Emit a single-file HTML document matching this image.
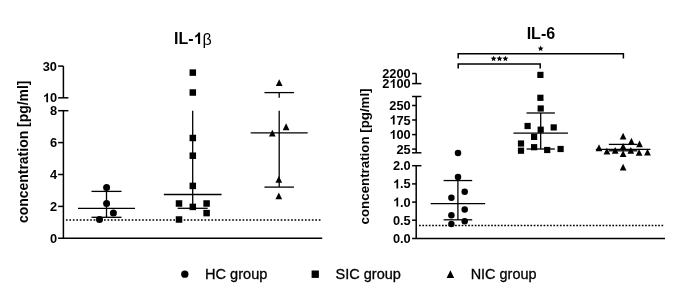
<!DOCTYPE html>
<html><head><meta charset="utf-8"><style>
html,body{margin:0;padding:0;background:#fff;width:687px;height:290px;overflow:hidden;}
svg{display:block;filter:grayscale(1);font-family:"Liberation Sans",sans-serif;}
</style></head><body>
<svg width="687" height="290" viewBox="0 0 687 290">
<g stroke="#000" stroke-width="1.5" fill="none" stroke-linecap="butt">
<line x1="63.4" y1="66.1" x2="63.4" y2="97.8"/>
<line x1="58.1" y1="66.1" x2="63.4" y2="66.1"/>
<line x1="58.1" y1="97.8" x2="68.4" y2="97.8"/>
<line x1="63.4" y1="110.7" x2="63.4" y2="238.3"/>
<line x1="58.1" y1="110.7" x2="68.4" y2="110.7"/>
<line x1="58.1" y1="142.6" x2="63.4" y2="142.6"/>
<line x1="58.1" y1="174.5" x2="63.4" y2="174.5"/>
<line x1="58.1" y1="206.4" x2="63.4" y2="206.4"/>
<line x1="58.1" y1="238.3" x2="322.2" y2="238.3"/>
<line x1="78.0" y1="208.4" x2="135.0" y2="208.4" stroke-width="1.3"/>
<line x1="91.5" y1="191.4" x2="121.5" y2="191.4" stroke-width="1.3"/>
<line x1="91.5" y1="217.3" x2="121.5" y2="217.3" stroke-width="1.3"/>
<line x1="106.5" y1="191.4" x2="106.5" y2="217.3" stroke-width="1.3"/>
<line x1="163.85" y1="194.5" x2="221.54999999999998" y2="194.5" stroke-width="1.3"/>
<line x1="177.7" y1="208.3" x2="207.7" y2="208.3" stroke-width="1.3"/>
<line x1="192.7" y1="110.7" x2="192.7" y2="208.3" stroke-width="1.3"/>
<line x1="250.7" y1="132.9" x2="307.7" y2="132.9" stroke-width="1.3"/>
<line x1="264.45" y1="92.6" x2="293.95" y2="92.6" stroke-width="1.3"/>
<line x1="264.45" y1="187.1" x2="293.95" y2="187.1" stroke-width="1.3"/>
<line x1="279.2" y1="92.6" x2="279.2" y2="97.8" stroke-width="1.3"/>
<line x1="279.2" y1="110.7" x2="279.2" y2="187.1" stroke-width="1.3"/>
<line x1="416.2" y1="73.5" x2="416.2" y2="83.6"/>
<line x1="412.1" y1="73.5" x2="416.2" y2="73.5"/>
<line x1="412.1" y1="83.6" x2="421.4" y2="83.6"/>
<line x1="416.2" y1="96.5" x2="416.2" y2="152.8"/>
<line x1="412.1" y1="96.5" x2="421.4" y2="96.5"/>
<line x1="412.1" y1="152.8" x2="421.4" y2="152.8"/>
<line x1="412.1" y1="105.5" x2="416.2" y2="105.5"/>
<line x1="412.1" y1="120" x2="416.2" y2="120"/>
<line x1="412.1" y1="134.6" x2="416.2" y2="134.6"/>
<line x1="412.1" y1="149.1" x2="416.2" y2="149.1"/>
<line x1="416.2" y1="165.7" x2="416.2" y2="238.5"/>
<line x1="412.1" y1="165.7" x2="421.4" y2="165.7"/>
<line x1="412.1" y1="183.9" x2="416.2" y2="183.9"/>
<line x1="412.1" y1="202.1" x2="416.2" y2="202.1"/>
<line x1="412.1" y1="220.2" x2="416.2" y2="220.2"/>
<line x1="412.1" y1="238.6" x2="665" y2="238.6"/>
<line x1="430.65" y1="203.7" x2="485.15" y2="203.7" stroke-width="1.3"/>
<line x1="443.59999999999997" y1="180.55" x2="472.2" y2="180.55" stroke-width="1.3"/>
<line x1="443.59999999999997" y1="219.8" x2="472.2" y2="219.8" stroke-width="1.3"/>
<line x1="457.9" y1="180.55" x2="457.9" y2="219.8" stroke-width="1.3"/>
<line x1="513.45" y1="133.2" x2="567.95" y2="133.2" stroke-width="1.3"/>
<line x1="526.5500000000001" y1="113.0" x2="554.85" y2="113.0" stroke-width="1.3"/>
<line x1="526.5500000000001" y1="149.0" x2="554.85" y2="149.0" stroke-width="1.3"/>
<line x1="540.7" y1="113.0" x2="540.7" y2="149.0" stroke-width="1.3"/>
<line x1="595.8000000000001" y1="149.4" x2="650.4" y2="149.4" stroke-width="1.3"/>
<line x1="608.85" y1="144.4" x2="637.35" y2="144.4" stroke-width="1.3"/>
<line x1="608.85" y1="150.8" x2="637.35" y2="150.8" stroke-width="1.3"/>
<line x1="623.1" y1="144.4" x2="623.1" y2="150.8" stroke-width="1.3"/>
<line x1="65.91" y1="220" x2="321" y2="220" stroke-dasharray="1.7 1.764" stroke-width="1.6"/>
<line x1="419.05" y1="225.5" x2="663.2" y2="225.5" stroke-dasharray="1.7 1.576" stroke-width="1.6"/>
<polyline points="458.2,58.5 458.2,53.8 623.4,53.8 623.4,58.5" fill="none"/>
<polyline points="458.2,68.6 458.2,64.1 540.2,64.1 540.2,68.6" fill="none"/>
</g>
<g fill="#000">
<circle cx="106.6" cy="187.5" r="3.5"/>
<circle cx="106.6" cy="203.5" r="3.5"/>
<circle cx="113.4" cy="212.9" r="3.5"/>
<circle cx="99.5" cy="219.6" r="3.5"/>
<rect x="189.55" y="69.35" width="6.5" height="6.5"/>
<rect x="189.55" y="89.25" width="6.5" height="6.5"/>
<rect x="189.55" y="134.75" width="6.5" height="6.5"/>
<rect x="189.55" y="152.45" width="6.5" height="6.5"/>
<rect x="189.55" y="182.65" width="6.5" height="6.5"/>
<rect x="175.75" y="200.25" width="6.5" height="6.5"/>
<rect x="203.35" y="200.25" width="6.5" height="6.5"/>
<rect x="189.55" y="203.65" width="6.5" height="6.5"/>
<rect x="203.35" y="209.85" width="6.5" height="6.5"/>
<rect x="175.75" y="216.25" width="6.5" height="6.5"/>
<polygon points="275.85,86.06 282.55,86.06 279.20,79.26"/>
<polygon points="282.75,130.16 289.45,130.16 286.10,123.36"/>
<polygon points="268.95,136.46 275.65,136.46 272.30,129.66"/>
<polygon points="275.45,182.86 282.15,182.86 278.80,176.06"/>
<polygon points="275.45,199.26 282.15,199.26 278.80,192.46"/>
<circle cx="458" cy="153" r="3.25"/>
<circle cx="458" cy="177" r="3.25"/>
<circle cx="464.7" cy="191.8" r="3.25"/>
<circle cx="451.4" cy="197.8" r="3.25"/>
<circle cx="464.7" cy="209.6" r="3.25"/>
<circle cx="451.4" cy="215.2" r="3.25"/>
<circle cx="464.7" cy="221.2" r="3.25"/>
<circle cx="451.4" cy="224.0" r="3.25"/>
<rect x="537.30" y="71.80" width="6.2" height="6.2"/>
<rect x="537.30" y="94.70" width="6.2" height="6.2"/>
<rect x="537.60" y="105.40" width="6.2" height="6.2"/>
<rect x="524.50" y="122.90" width="6.2" height="6.2"/>
<rect x="550.60" y="124.30" width="6.2" height="6.2"/>
<rect x="537.60" y="126.60" width="6.2" height="6.2"/>
<rect x="531.00" y="133.80" width="6.2" height="6.2"/>
<rect x="517.90" y="140.40" width="6.2" height="6.2"/>
<rect x="517.90" y="147.60" width="6.2" height="6.2"/>
<rect x="531.00" y="144.10" width="6.2" height="6.2"/>
<rect x="544.10" y="146.90" width="6.2" height="6.2"/>
<rect x="557.50" y="145.90" width="6.2" height="6.2"/>
<polygon points="619.75,139.56 626.45,139.56 623.10,132.76"/>
<polygon points="628.05,144.66 634.75,144.66 631.40,137.86"/>
<polygon points="636.15,147.26 642.85,147.26 639.50,140.46"/>
<polygon points="595.65,151.16 602.35,151.16 599.00,144.36"/>
<polygon points="619.75,149.76 626.45,149.76 623.10,142.96"/>
<polygon points="603.55,154.46 610.25,154.46 606.90,147.66"/>
<polygon points="611.85,153.76 618.55,153.76 615.20,146.96"/>
<polygon points="627.45,153.76 634.15,153.76 630.80,146.96"/>
<polygon points="619.75,156.96 626.45,156.96 623.10,150.16"/>
<polygon points="635.75,155.76 642.45,155.76 639.10,148.96"/>
<polygon points="644.15,155.46 650.85,155.46 647.50,148.66"/>
<polygon points="619.75,170.46 626.45,170.46 623.10,163.66"/>
<circle cx="184.8" cy="274.2" r="3.65"/>
<rect x="311.6" y="270.5" width="7.3" height="7.4"/>
<polygon points="446.6,278 454.2,278 450.4,270.3"/>
<polygon points="540.65,45.55 541.47,47.47 543.55,47.66 541.98,49.03 542.44,51.07 540.65,50.00 538.86,51.07 539.32,49.03 537.75,47.66 539.83,47.47"/>
<polygon points="493.60,55.65 494.42,57.57 496.50,57.76 494.93,59.13 495.39,61.17 493.60,60.10 491.81,61.17 492.27,59.13 490.70,57.76 492.78,57.57"/>
<polygon points="499.50,55.65 500.32,57.57 502.40,57.76 500.83,59.13 501.29,61.17 499.50,60.10 497.71,61.17 498.17,59.13 496.60,57.76 498.68,57.57"/>
<polygon points="505.40,55.65 506.22,57.57 508.30,57.76 506.73,59.13 507.19,61.17 505.40,60.10 503.61,61.17 504.07,59.13 502.50,57.76 504.58,57.57"/>
<path transform="translate(42.76,102.3) scale(12.8)" d="M0.412,0 L0.278,0 L0.278,-0.506 C0.226,-0.457 0.165,-0.421 0.104,-0.404 L0.104,-0.526 C0.14,-0.538 0.18,-0.558 0.219,-0.591 C0.259,-0.624 0.288,-0.665 0.303,-0.716 L0.412,-0.716 Z"/>
<path transform="translate(389.34,88.1) scale(12.8)" d="M0.412,0 L0.278,0 L0.278,-0.506 C0.226,-0.457 0.165,-0.421 0.104,-0.404 L0.104,-0.526 C0.14,-0.538 0.18,-0.558 0.219,-0.591 C0.259,-0.624 0.288,-0.665 0.303,-0.716 L0.412,-0.716 Z"/>
<path transform="translate(389.34,124.5) scale(12.8)" d="M0.412,0 L0.278,0 L0.278,-0.506 C0.226,-0.457 0.165,-0.421 0.104,-0.404 L0.104,-0.526 C0.14,-0.538 0.18,-0.558 0.219,-0.591 C0.259,-0.624 0.288,-0.665 0.303,-0.716 L0.412,-0.716 Z"/>
<path transform="translate(389.34,139.1) scale(12.8)" d="M0.412,0 L0.278,0 L0.278,-0.506 C0.226,-0.457 0.165,-0.421 0.104,-0.404 L0.104,-0.526 C0.14,-0.538 0.18,-0.558 0.219,-0.591 C0.259,-0.624 0.288,-0.665 0.303,-0.716 L0.412,-0.716 Z"/>
<path transform="translate(392.91,188.4) scale(12.8)" d="M0.412,0 L0.278,0 L0.278,-0.506 C0.226,-0.457 0.165,-0.421 0.104,-0.404 L0.104,-0.526 C0.14,-0.538 0.18,-0.558 0.219,-0.591 C0.259,-0.624 0.288,-0.665 0.303,-0.716 L0.412,-0.716 Z"/>
<path transform="translate(392.91,206.6) scale(12.8)" d="M0.412,0 L0.278,0 L0.278,-0.506 C0.226,-0.457 0.165,-0.421 0.104,-0.404 L0.104,-0.526 C0.14,-0.538 0.18,-0.558 0.219,-0.591 C0.259,-0.624 0.288,-0.665 0.303,-0.716 L0.412,-0.716 Z"/>
<path transform="translate(193.52,44) scale(16)" d="M0.412,0 L0.278,0 L0.278,-0.506 C0.226,-0.457 0.165,-0.421 0.104,-0.404 L0.104,-0.526 C0.14,-0.538 0.18,-0.558 0.219,-0.591 C0.259,-0.624 0.288,-0.665 0.303,-0.716 L0.412,-0.716 Z"/>
</g>
<g fill="#000" font-family="Liberation Sans, sans-serif">
<text x="42.76" y="70.6" font-size="12.8" font-weight="bold">30</text>
<text x="49.88" y="102.3" font-size="12.8" font-weight="bold">0</text>
<text x="49.88" y="115.2" font-size="12.8" font-weight="bold">8</text>
<text x="49.88" y="147.1" font-size="12.8" font-weight="bold">6</text>
<text x="49.88" y="179.0" font-size="12.8" font-weight="bold">4</text>
<text x="49.88" y="210.9" font-size="12.8" font-weight="bold">2</text>
<text x="49.88" y="242.8" font-size="12.8" font-weight="bold">0</text>
<text x="382.22" y="78.0" font-size="12.8" font-weight="bold">2200</text>
<text x="382.22" y="88.1" font-size="12.8" font-weight="bold">2</text>
<text x="396.46" y="88.1" font-size="12.8" font-weight="bold">00</text>
<text x="389.34" y="110.0" font-size="12.8" font-weight="bold">250</text>
<text x="396.46" y="124.5" font-size="12.8" font-weight="bold">75</text>
<text x="396.46" y="139.1" font-size="12.8" font-weight="bold">00</text>
<text x="396.46" y="153.6" font-size="12.8" font-weight="bold">25</text>
<text x="392.91" y="170.2" font-size="12.8" font-weight="bold">2.0</text>
<text x="400.02" y="188.4" font-size="12.8" font-weight="bold">.5</text>
<text x="400.02" y="206.6" font-size="12.8" font-weight="bold">.0</text>
<text x="392.91" y="224.7" font-size="12.8" font-weight="bold">0.5</text>
<text x="392.91" y="243.0" font-size="12.8" font-weight="bold">0.0</text>
<text x="173.97" y="44" font-size="16" font-weight="bold">IL-</text>
<text x="202.42" y="44.5" font-size="16">β</text>
<text x="540.9" y="38.6" font-size="16" font-weight="bold" text-anchor="middle">IL-6</text>
<text transform="translate(28.4,223.0) rotate(-90)" font-size="13.95" font-weight="bold" text-anchor="start">concentration [pg/ml]</text>
<text transform="translate(368.6,224.4) rotate(-90)" font-size="13.3" font-weight="bold" text-anchor="start">concentration [pg/ml]</text>
<text x="205.0" y="279.2" font-size="14" font-weight="normal" text-anchor="start" textLength="62.4" lengthAdjust="spacingAndGlyphs" stroke="#000" stroke-width="0.3">HC group</text>
<text x="335.5" y="279.2" font-size="14" font-weight="normal" text-anchor="start" textLength="65.4" lengthAdjust="spacingAndGlyphs" stroke="#000" stroke-width="0.3">SIC group</text>
<text x="470.7" y="279.2" font-size="14" font-weight="normal" text-anchor="start" textLength="65.8" lengthAdjust="spacingAndGlyphs" stroke="#000" stroke-width="0.3">NIC group</text>
</g>
</svg>
</body></html>
